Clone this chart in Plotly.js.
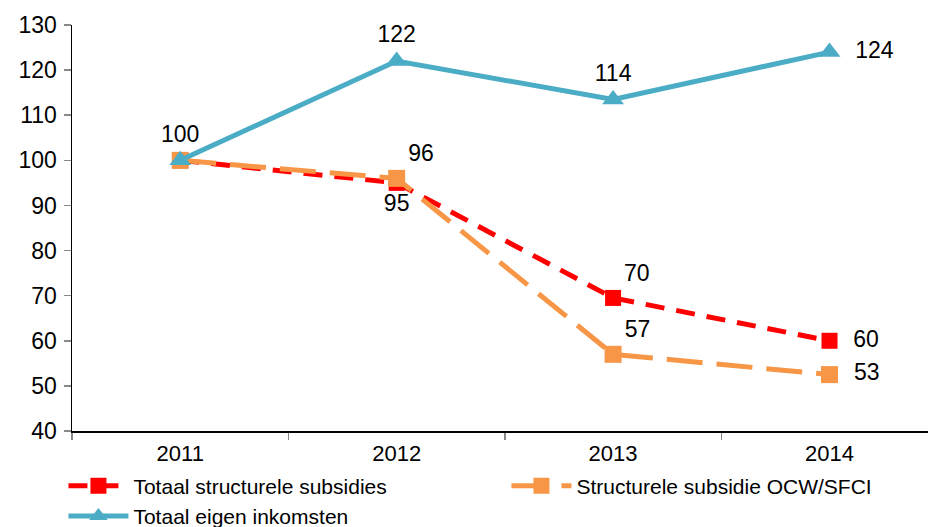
<!DOCTYPE html>
<html>
<head>
<meta charset="utf-8">
<script src="https://cdn.plot.ly/plotly-3.0.1.min.js"></script>
<style>html,body{margin:0;padding:0;background:#fff;}#chart{width:928px;height:527px;}</style>
</head>
<body>
<div id="chart"></div>
<script>
var years = ['2011', '2012', '2013', '2014'];
var totaalSubsidies = [100, 95, 69.5, 60];
var subsidieOCW = [100, 96, 57, 52.5];
var eigenInkomsten = [100, 122, 113.5, 124];
var labelsSubsidies = ['', '95', '70', '60'];
var labelsOCW = ['', '96', '57', '53'];
var labelsEigen = ['100', '122', '114', '124'];
var yTicks = [40, 50, 60, 70, 80, 90, 100, 110, 120, 130];

var FS = 23;
var labelFont = {family: 'Liberation Sans, Arial, sans-serif', size: FS, color: '#000'};
var tt = ['%{text}', '%{text}', '%{text}', '  %{text}'];

var traces = [
  {
    x: years, y: totaalSubsidies, name: 'Totaal structurele subsidies',
    type: 'scatter', mode: 'lines+markers+text',
    line: {color: '#ff0000', width: 5, dash: '19px,12px'},
    marker: {symbol: 'square', size: 16, color: '#ff0000'},
    text: labelsSubsidies, texttemplate: tt,
    textposition: ['top center', 'bottom center', 'top right', 'middle right'],
    textfont: labelFont, cliponaxis: false
  },
  {
    x: years, y: subsidieOCW, name: 'Structurele subsidie OCW/SFCI',
    type: 'scatter', mode: 'lines+markers+text',
    line: {color: '#f79646', width: 5, dash: '36px,14px'},
    marker: {symbol: 'square', size: 17, color: '#f79646'},
    text: labelsOCW, texttemplate: tt,
    textposition: ['top center', 'top right', 'top right', 'middle right'],
    textfont: labelFont, cliponaxis: false
  },
  {
    x: years, y: eigenInkomsten, name: 'Totaal eigen inkomsten',
    type: 'scatter', mode: 'lines+markers+text',
    line: {color: '#4bacc6', width: 5},
    marker: {symbol: 'triangle-up', size: 19, color: '#4bacc6'},
    text: labelsEigen, texttemplate: tt,
    textposition: ['top center', 'top center', 'top center', 'middle right'],
    textfont: labelFont, cliponaxis: false
  }
];

var layout = {
  width: 928, height: 527,
  margin: {l: 72, r: 0, t: 25, b: 96, autoexpand: false},
  paper_bgcolor: '#fff', plot_bgcolor: '#fff',
  font: {family: 'Liberation Sans, Arial, sans-serif', size: FS, color: '#000'},
  showlegend: true,
  xaxis: {
    type: 'category', range: [-0.5, 3.455],
    showline: true, linecolor: '#000', linewidth: 1.5,
    ticks: 'outside', tickson: 'boundaries', ticklen: 7, tickcolor: '#888', tickwidth: 1.5,
    ticklabelstandoff: 2,
    showgrid: false, zeroline: false,
    tickfont: {size: 22, color: '#000'}
  },
  yaxis: {
    range: [40, 130], tickvals: yTicks, ticktext: yTicks.map(String),
    showline: true, linecolor: '#000', linewidth: 1.5,
    ticks: 'outside', ticklen: 7, tickcolor: '#888', tickwidth: 1.5,
    ticklabelstandoff: 2,
    showgrid: false, zeroline: false,
    tickfont: {size: FS, color: '#000'}
  },
  legend: {
    orientation: 'h', x: -0.01, xanchor: 'left', y: -0.085, yanchor: 'top',
    font: {size: 21, color: '#000'},
    entrywidth: 368, entrywidthmode: 'pixels',
    tracegroupgap: 0, itemwidth: 60,
    bgcolor: 'rgba(0,0,0,0)'
  }
};

Plotly.newPlot('chart', traces, layout, {displayModeBar: false, staticPlot: true});
</script>
</body>
</html>
